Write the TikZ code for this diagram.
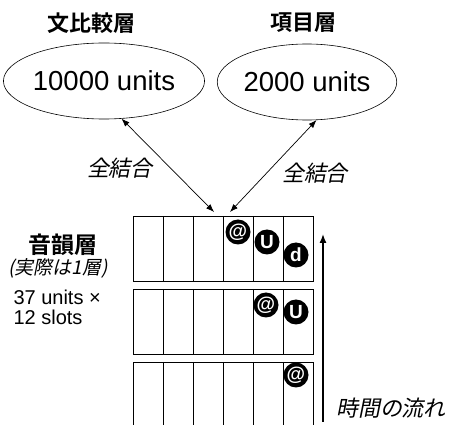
\documentclass[tikz,border=0pt]{standalone}
\usepackage{fontspec}
\setmainfont{Liberation Sans}
\newfontfamily\jpfont[BoldFont={Noto Sans CJK JP Bold}]{Noto Sans CJK JP}
\newfontfamily\jpslant[FakeSlant=0.2]{Noto Sans CJK JP}
\usetikzlibrary{shapes.geometric,arrows.meta}
\tikzset{
  layer/.style={ellipse,draw,line width=0.6pt,minimum width=166pt,minimum height=76pt,inner sep=0pt,font=\fontsize{27.5}{30}\selectfont},
  title/.style={font=\jpfont\bfseries\fontsize{22}{26}\selectfont},
  link/.style={font=\jpslant\fontsize{22}{26}\selectfont},
  phone/.style={circle,fill=black,text=white,inner sep=0pt,minimum size=25pt,font=\bfseries\fontsize{19}{20}\selectfont},
  conn/.style={line width=0.7pt,{Latex[length=8pt,width=6pt]}-{Latex[length=8pt,width=6pt]}}
}
\begin{document}
\begin{tikzpicture}[x=1pt,y=-1pt]
        \useasboundingbox (0,0) rectangle (451,425);
        \def\xl{133} \def\cw{30}

        \node[title] (tsent) at (92,23) {文比較層};
        \node[title] (titem) at (303,23) {項目層};
        \node[layer] (sent) at (104,81) {10000 units};
        \node[layer] (item) at (307,82) {2000 units};

        % slots
        \foreach \top/\bot in {216/281,289/354} {
          \draw[line width=0.9pt] (\xl,\top) rectangle (\xl+6*\cw,\bot);
          \foreach \i in {1,...,5}
            \draw[line width=0.9pt] (\xl+\i*\cw,\top) -- (\xl+\i*\cw,\bot);
        }
        \draw[line width=0.9pt] (\xl,425) -- (\xl,362) -- (\xl+6*\cw,362) -- (\xl+6*\cw,425);
        \foreach \i in {1,...,5}
          \draw[line width=0.9pt] (\xl+\i*\cw,362) -- (\xl+\i*\cw,425);

        \node[phone] (p1a) at (238,232) {@};
        \node[phone] (p1b) at (267,242) {U};
        \node[phone] (p1c) at (296,255) {d};
        \node[phone] (p2a) at (266,305) {@};
        \node[phone] (p2b) at (296,312) {U};
        \node[phone] (p3a) at (296,375) {@};

        \coordinate (inL) at (214,212);
        \coordinate (inR) at (230,212);
        \draw[conn] (sent.-65) -- (inL);
        \draw[conn] (item.-76) -- (inR);
        \node[link] (lkL) at (120,168) {全結合};
        \node[link] (lkR) at (315,173) {全結合};

        \node[title,font=\jpfont\bfseries\fontsize{23}{26}\selectfont] (phon) at (63,245) {音韻層};
        \node[link,font=\jpslant\fontsize{19}{22}\selectfont] (note) at (58,268) {(実際は1層)};
        \node[anchor=west,font=\fontsize{20}{24}\selectfont] (units) at (10,297) {37 units ×};
        \node[anchor=west,font=\fontsize{20}{24}\selectfont] (slots) at (10,317) {12 slots};

        \coordinate (tbot) at (323,422);
        \coordinate (ttop) at (323,234);
        \draw[line width=1.4pt,-{Latex[length=9pt,width=7pt]}] (tbot) -- (ttop);
        \node[link] (time) at (391,408) {時間の流れ};
\end{tikzpicture}
\end{document}
